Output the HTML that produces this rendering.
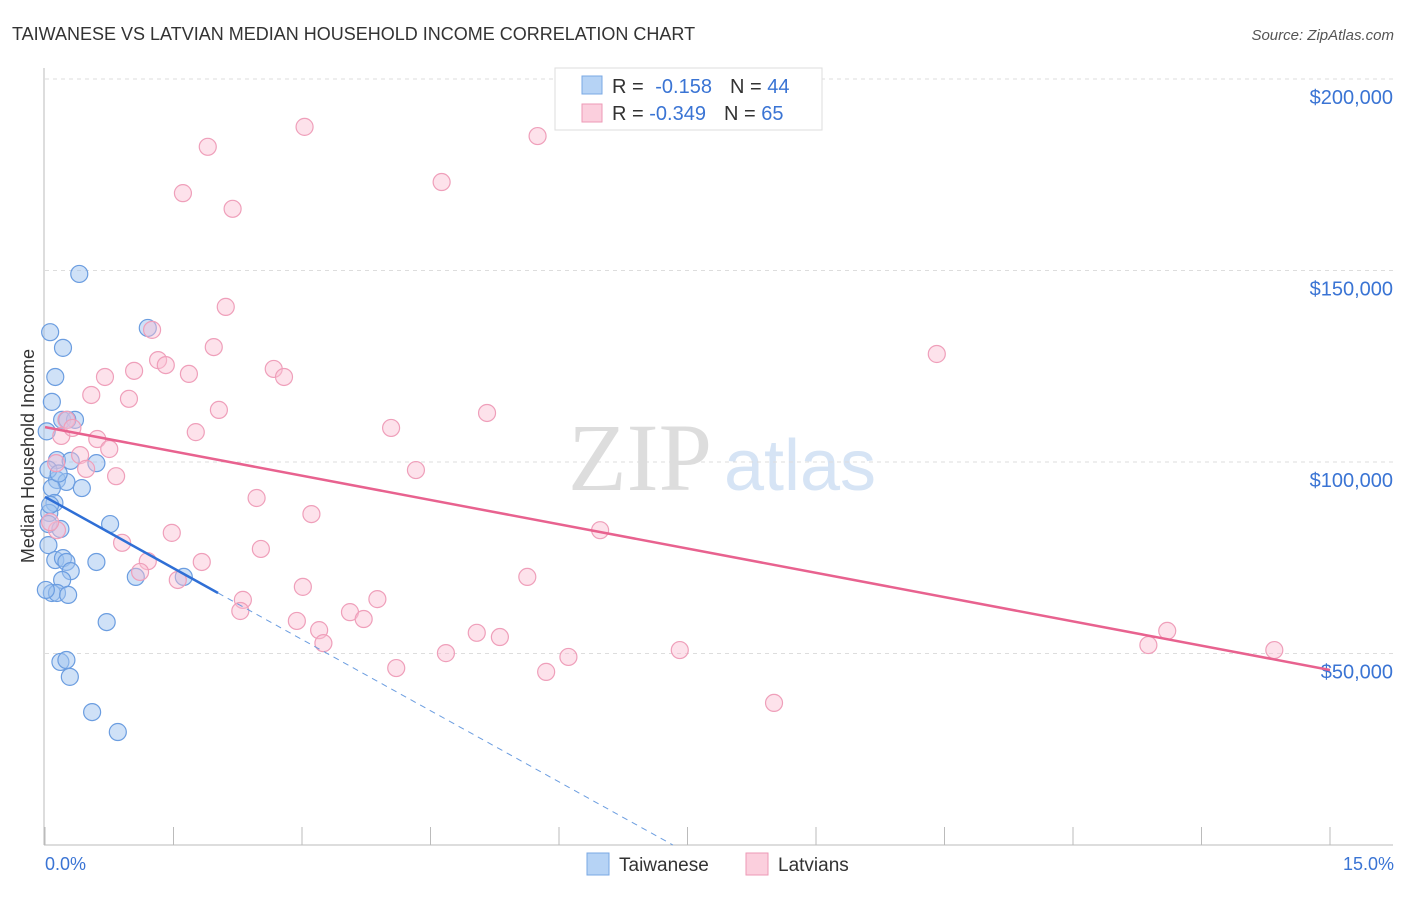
<!DOCTYPE html>
<html><head><meta charset="utf-8"><style>
body{margin:0;background:#fff;font-family:"Liberation Sans",sans-serif}
#wrap{position:relative;width:1406px;height:892px}
</style></head><body>
<div id="wrap">
<svg id="svg" width="1406" height="892" xmlns="http://www.w3.org/2000/svg">
<text x="12" y="40" font-size="18" fill="#333">TAIWANESE VS LATVIAN MEDIAN HOUSEHOLD INCOME CORRELATION CHART</text>
<text x="1394" y="40" font-size="15" fill="#555" font-style="italic" text-anchor="end">Source: ZipAtlas.com</text>
<text x="640" y="490" font-size="96" fill="#ddd" font-family="Liberation Serif" text-anchor="middle">ZIP</text>
<text x="800" y="490" font-size="72" fill="#d6e4f5" text-anchor="middle">atlas</text>
<g id="grid"></g>
<g id="axes"></g>
<g id="pts"></g>
<g id="lines"></g>
<text x="34" y="456" font-size="18" fill="#333" text-anchor="middle" transform="rotate(-90 34 456)">Median Household Income</text>
<text x="45" y="870" font-size="18" fill="#3a74d4">0.0%</text>
<text x="1394" y="870" font-size="18" fill="#3a74d4" text-anchor="end">15.0%</text>
<g>
<rect x="555" y="68" width="267" height="62" fill="#fff" stroke="#ddd"/>
<rect x="582" y="76" width="20" height="18" fill="#b6d3f5" stroke="#7aa8e4"/>
<rect x="582" y="104" width="20" height="18" fill="#fbcfdd" stroke="#ee9ab6"/>
<text x="612" y="93" font-size="20" fill="#333">R =  <tspan fill="#3a74d4" dx="6">-0.158</tspan><tspan dx="18">N = </tspan><tspan fill="#3a74d4">44</tspan></text>
<text x="612" y="120" font-size="20" fill="#333">R = <tspan fill="#3a74d4">-0.349</tspan><tspan dx="18">N = </tspan><tspan fill="#3a74d4">65</tspan></text>
</g>
<g>
<rect x="587" y="853" width="22" height="22" fill="#b6d3f5" stroke="#7aa8e4"/>
<text x="619" y="871" font-size="19" fill="#333">Taiwanese</text>
<rect x="746" y="853" width="22" height="22" fill="#fbcfdd" stroke="#ee9ab6"/>
<text x="778" y="871" font-size="19" fill="#333">Latvians</text>
</g>
</svg>
</div>
<script>
const yTicks=[50000,100000,150000,200000];
const yTickLabels=["$50,000","$100,000","$150,000","$200,000"];
const xTicks=[0,1.5,3,4.5,6,7.5,9,10.5,12,13.5,15];
const twX=[0.40,0.06,0.21,0.12,0.08,0.20,0.35,0.26,0.14,0.30,0.60,0.14,0.25,0.08,0.43,0.11,0.05,0.04,0.18,0.76,0.04,0.12,0.21,0.25,0.60,0.30,0.20,1.06,1.62,0.08,0.14,0.27,0.72,0.18,0.25,0.29,0.55,0.85,1.20,0.02,0.04,0.06,0.01,0.16];
const twY=[149.1,133.9,129.8,122.2,115.7,111.0,111.0,111.0,100.5,100.3,99.7,95.3,94.8,93.2,93.2,89.3,86.7,83.8,82.5,83.8,78.3,74.4,74.9,73.9,73.9,71.5,69.2,70.0,70.0,65.8,65.8,65.3,58.2,47.8,48.3,43.9,34.7,29.5,135.0,108,98,88.8,66.6,97];
const lvX=[1.90,3.03,5.75,1.61,2.19,4.63,2.11,1.25,1.97,1.32,1.41,0.70,1.04,1.68,2.67,2.79,10.41,0.54,0.98,2.03,5.16,0.25,1.76,4.04,0.19,0.32,0.61,0.75,0.41,0.48,0.13,4.33,0.83,2.47,3.11,6.48,1.48,0.14,0.06,0.90,2.52,1.20,1.83,1.11,1.55,3.01,5.63,2.31,3.88,2.28,3.56,3.72,2.94,3.20,3.25,5.04,5.31,13.10,12.88,14.35,7.41,4.68,6.11,4.10,5.85,8.51];
const lvY=[182.3,187.5,185.1,170.2,166.1,173.1,140.5,134.5,130.0,126.6,125.3,122.2,123.8,123.0,124.3,122.2,128.2,117.5,116.5,113.6,112.8,111.0,107.8,108.9,106.8,108.9,106.0,103.4,101.8,98.2,99.7,97.9,96.3,90.6,86.4,82.2,81.5,82.2,84.3,78.9,77.3,74.1,73.9,71.3,69.2,67.4,70.0,64.0,64.2,61.1,60.8,59.0,58.5,56.1,52.7,55.4,54.3,55.9,52.2,50.9,50.9,50.1,49.1,46.2,45.2,37.1];
const twTrend=[90.9,65.8,2.02,7.33];
const lvTrend=[109.1,45.7];
const NS="http://www.w3.org/2000/svg";
const sx=v=>45+v/15*1285;
const sy=v=>845-v/50000*191.5;
function mk(tag,attrs,parent){const e=document.createElementNS(NS,tag);for(const k in attrs)e.setAttribute(k,attrs[k]);document.getElementById(parent).appendChild(e);return e;}
yTicks.forEach((t,i)=>{
 const g=mk('line',{x1:45,x2:1393,y1:sy(t),y2:sy(t),stroke:'#ddd','stroke-dasharray':'4,4'},'grid');
 
 
 const l=mk('text',{x:1393,y:sy(t)+25,'font-size':20,fill:'#3a74d4','text-anchor':'end'},'grid');
 l.textContent=yTickLabels[i];
 
 
});
const ax=mk('line',{x1:44,x2:44,y1:68,y2:845,stroke:'#bbb'},'axes');


const bx=mk('line',{x1:44,x2:1393,y1:845,y2:845,stroke:'#bbb'},'axes');


xTicks.forEach(t=>{const k=mk('line',{x1:sx(t),x2:sx(t),y1:827,y2:845,stroke:'#bbb'},'axes');
 
 });
twX.forEach((x,i)=>{const c=mk('circle',{cx:sx(x),cy:sy(twY[i]*1000),r:8.5,fill:'rgba(160,196,240,0.5)',stroke:'#6b9de0','stroke-width':1.2},'pts');
 
 });
lvX.forEach((x,i)=>{const c=mk('circle',{cx:sx(x),cy:sy(lvY[i]*1000),r:8.5,fill:'rgba(250,190,210,0.45)',stroke:'#ef9fba','stroke-width':1.2},'pts');
 
 });
const lv=mk('line',{x1:sx(0),y1:sy(lvTrend[0]*1000),x2:sx(15),y2:sy(lvTrend[1]*1000),stroke:'#e8628f','stroke-width':2.5},'lines');


const tw=mk('line',{x1:sx(0),y1:sy(twTrend[0]*1000),x2:sx(twTrend[2]),y2:sy(twTrend[1]*1000),stroke:'#2f6fd6','stroke-width':2.5},'lines');


const td=mk('line',{x1:sx(twTrend[2]),y1:sy(twTrend[1]*1000),x2:sx(twTrend[3]),y2:sy(0),stroke:'#6b9de0','stroke-width':1,'stroke-dasharray':'6,5'},'lines');


</script>
</body></html>
